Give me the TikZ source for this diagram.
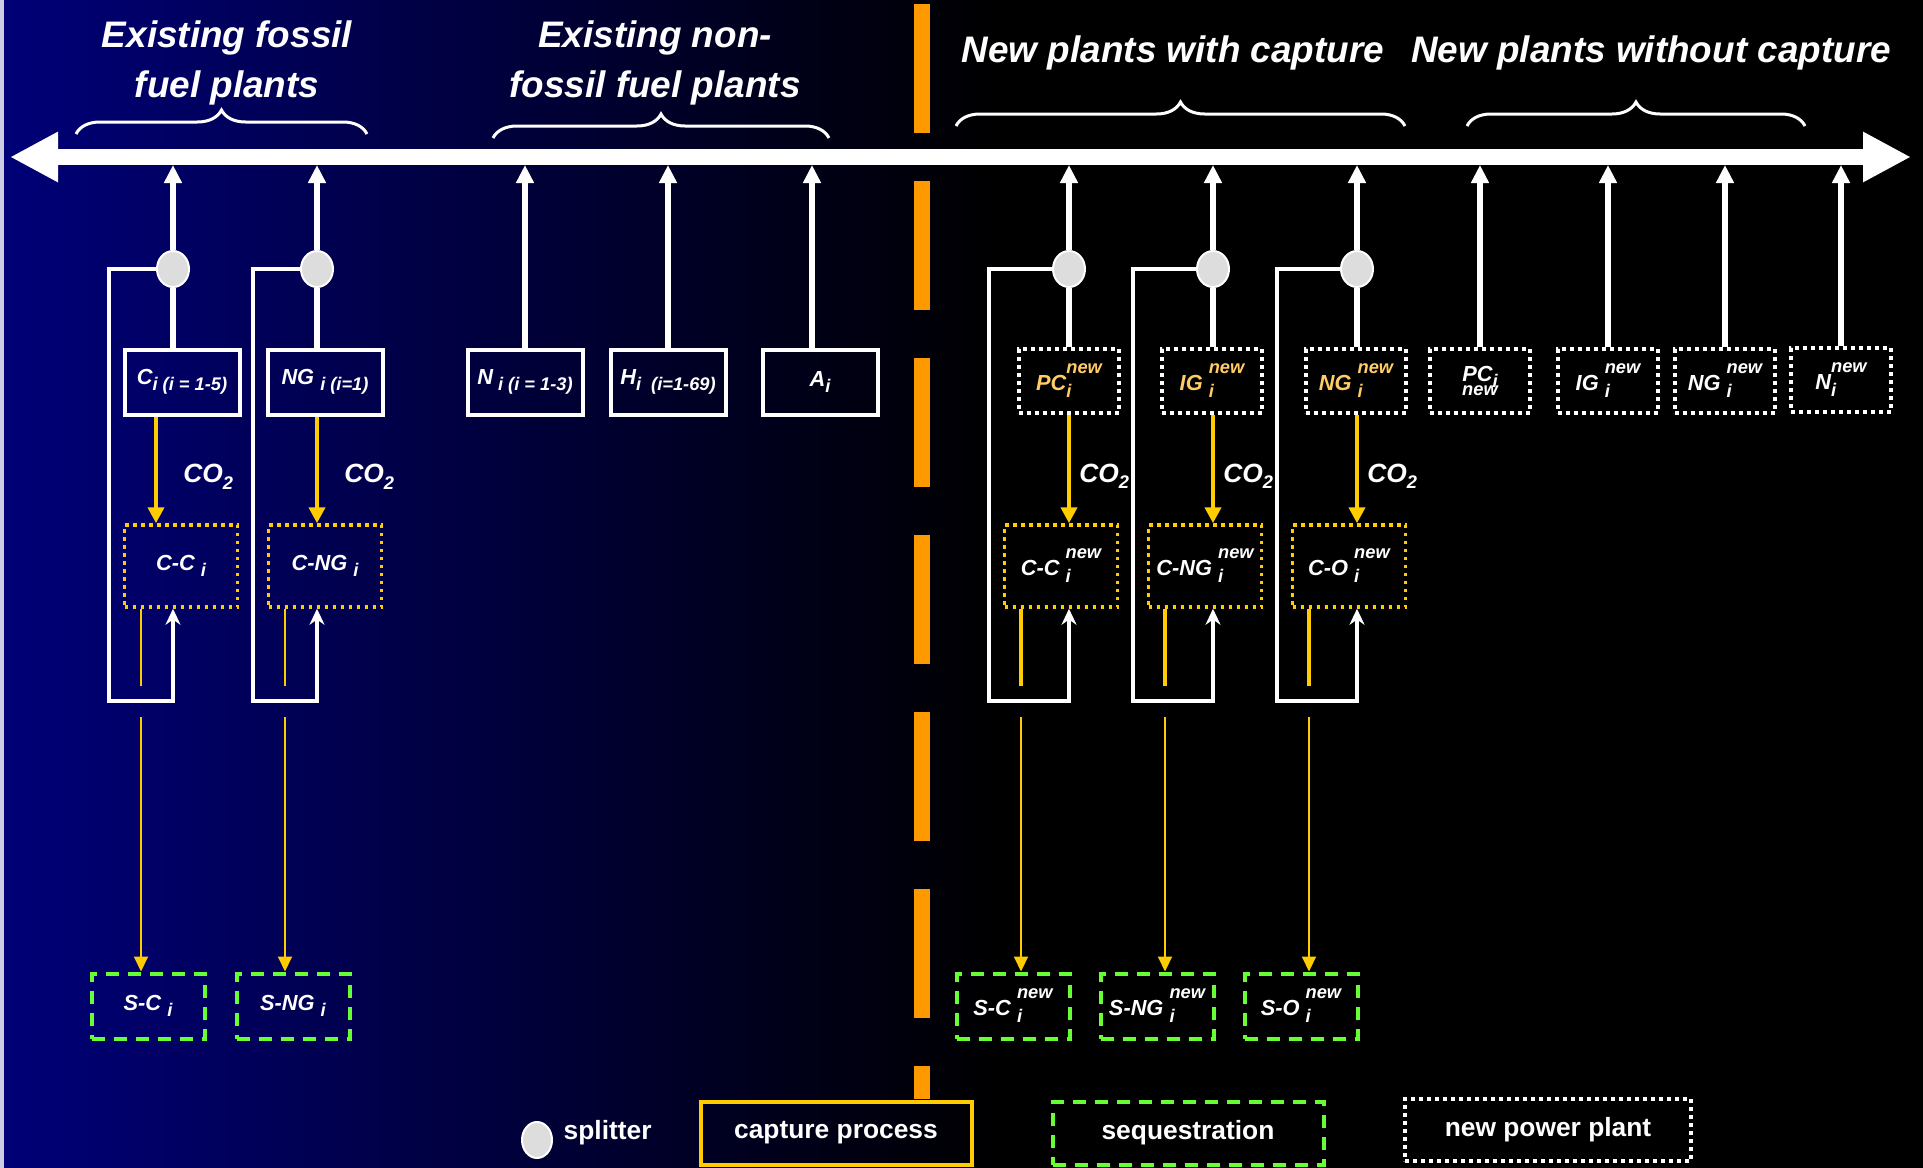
\documentclass[tikz,border=0pt]{standalone}
\usepackage{amsmath}
\usepackage{fontspec}
\setmainfont{Liberation Sans}
\usetikzlibrary{arrows.meta,shapes.geometric,decorations.pathreplacing}

\definecolor{capyellow}{HTML}{FFCC00}
\definecolor{seqgreen}{HTML}{66FF33}
\definecolor{gridorange}{HTML}{FF9900}
\definecolor{slidenavy}{HTML}{000078}
\definecolor{newgold}{HTML}{FFCC66}
\definecolor{splitgray}{HTML}{DDDDDD}

\newcommand{\plsub}[1]{\raisebox{-1.8pt}{\fontsize{5.2}{6}\selectfont #1}}
\newcommand{\plnew}{\raisebox{-2pt}{\fontsize{5.2}{6}\selectfont\shortstack[l]{new\\i}}}

\begin{document}
\begin{tikzpicture}[
			x=0.1mm, y=-0.1mm,
			every node/.style={font=\bfseries\itshape\fontsize{6.2}{7.4}\selectfont, text=white, inner sep=0pt},
			plant/.style={draw=white, line width=0.4mm, minimum width=11.5mm, minimum height=6.5mm},
			newplant/.style={draw=white, line width=0.4mm, dash pattern=on 0.4mm off 0.4mm, minimum width=10mm, minimum height=6.4mm},
			capture/.style={draw=capyellow, line width=0.35mm, dash pattern=on 0.35mm off 0.45mm, minimum width=11.3mm, minimum height=8.2mm},
			seqbox/.style={draw=seqgreen, line width=0.4mm, dash pattern=on 1.3mm off 0.9mm, minimum width=11.3mm, minimum height=6.5mm},
			splitter/.style={ellipse, draw=white, line width=0.2mm, fill=splitgray, minimum width=3.2mm, minimum height=3.6mm},
			title/.style={font=\bfseries\itshape\fontsize{10.5}{14.2}\selectfont, align=center},
			legend/.style={font=\bfseries\fontsize{7.5}{9}\selectfont},
			co2lab/.style={font=\bfseries\itshape\fontsize{7.5}{9}\selectfont, anchor=west},
			feed/.style={white, line width=0.6mm, -{Triangle[length=1.8mm,width=1.7mm]}},
			bypass/.style={white, line width=0.35mm},
			co2/.style={capyellow, line width=0.45mm, -{Triangle[length=1.6mm,width=1.6mm]}},
			seqline/.style={capyellow, line width=0.2mm},
			gbrace/.style={white, line width=0.3mm, decorate, decoration={brace, amplitude=2.4mm}}
			]
			\useasboundingbox (0,0) rectangle (1923,1168);
			
			% slide background
			\fill[black] (0,0) rectangle (1923,1168);
			\shade[left color=slidenavy, right color=black] (0,0) rectangle (1000,1168);
			\fill[white!80!slidenavy] (0,0) rectangle (4,1168);
			
			% existing / new divider
			\draw[gridorange, line width=1.6mm, dash pattern=on 12.9mm off 4.8mm] (922,4) -- (922,1099);
			
			% grid
			\coordinate (busW) at (10,157);
			\coordinate (busE) at (1911,157);
			\coordinate (busfoot) at (0,165);
			\draw[white, line width=1.6mm, {Triangle[length=4.8mm,width=4.7mm]}-{Triangle[length=4.8mm,width=4.7mm]}] (busW) -- (busE);
			
			\node[title] (tfossil) at (227,63) {Existing fossil\\fuel plants};
			\node[title] (tnonfossil) at (655,63) {Existing non-\\fossil fuel plants};
			\node[title] (twith) at (1173,53) {New plants with capture};
			\node[title] (twithout) at (1651,53) {New plants without capture};
			
			\draw[gbrace] (76,134) -- (367,134);
			\draw[gbrace] (493,138) -- (829,138);
			\draw[gbrace] (956,126) -- (1405,126);
			\draw[gbrace] (1467,126) -- (1805,126);
			
			% power plants
			\node[plant] (cbox) at (182,382) {C\plsub{i (i = 1-5)}};
			\node[plant] (ngbox) at (325,382) {NG \plsub{i (i=1)}};
			\node[plant] (nbox) at (525,382) {N\plsub{ i (i = 1-3)}};
			\node[plant] (hbox) at (668,382) {H\plsub{i \ (i=1-69)}};
			\node[plant] (abox) at (820,382) {A\plsub{i}};
			
			\node[newplant, text=newgold] (pcbox) at (1069,381) {PC\plnew};
			\node[newplant, text=newgold] (igbox) at (1212,381) {IG \plnew};
			\node[newplant, text=newgold] (ngnbox) at (1356,381) {NG \plnew};
			\node[newplant, align=center] (pcwbox) at (1480,381) {PC\plsub{i}\\[-3.5pt]{\fontsize{5.2}{6}\selectfont new}};
			\node[newplant] (igwbox) at (1608,381) {IG \plnew};
			\node[newplant] (ngwbox) at (1725,381) {NG \plnew};
			\node[newplant] (nwbox) at (1841,380) {N\plnew};
			
			% capture and sequestration
			\node[capture] (ccC) at (181,566) {C-C \plsub{i}};
			\node[capture] (ccNG) at (325,566) {C-NG \plsub{i}};
			\node[capture] (ccPC) at (1061,566) {C-C \plnew};
			\node[capture] (ccIG) at (1205,566) {C-NG \plnew};
			\node[capture] (ccO) at (1349,566) {C-O \plnew};
			
			\node[seqbox] (sC) at (148,1006) {S-C \plsub{i}};
			\node[seqbox] (sNG) at (293,1006) {S-NG \plsub{i}};
			\node[seqbox] (sPC) at (1013,1006) {S-C \plnew};
			\node[seqbox] (sIG) at (1157,1006) {S-NG \plnew};
			\node[seqbox] (sO) at (1301,1006) {S-O \plnew};
			
			\node[splitter] (spC) at (173,269) {};
			\node[splitter] (spNG) at (317,269) {};
			\node[splitter] (spPC) at (1069,269) {};
			\node[splitter] (spIG) at (1213,269) {};
			\node[splitter] (spNGn) at (1357,269) {};
			
			% flows
			\foreach \s/\b in {spC/cbox, spNG/ngbox, spPC/pcbox, spIG/igbox, spNGn/ngnbox} {
				\draw[white, line width=0.6mm] (\s.south) -- (\s |- \b.north);
				\draw[feed] (\s.north) -- (\s |- busfoot);
			}
			\foreach \b in {nbox, hbox, pcwbox, igwbox, ngwbox, nwbox}
				\draw[feed] (\b.north) -- (\b |- busfoot);
			\draw[feed] ([xshift=-0.8mm]abox.north) -- ([xshift=-0.8mm]abox.north |- busfoot);
			
			\foreach \s/\c/\lx in {spC/ccC/109, spNG/ccNG/253, spPC/ccPC/989, spIG/ccIG/1133, spNGn/ccO/1277}
				\draw[bypass, -{Stealth[length=1.6mm,width=1.5mm]}] (\s.west) -| (\lx,701) -| (\s |- \c.south);
			
			\draw[co2] ([xshift=-2.6mm]cbox.south) -- node[co2lab, xshift=2.5mm, yshift=-0.7mm] {CO\plsub{2}} ([xshift=-2.6mm]cbox.south |- ccC.north);
			\draw[co2] (spNG |- ngbox.south) -- node[co2lab, xshift=2.5mm, yshift=-0.7mm] {CO\plsub{2}} (spNG |- ccNG.north);
			\foreach \s/\b/\c in {spPC/pcbox/ccPC, spIG/igbox/ccIG, spNGn/ngnbox/ccO}
				\draw[co2] (\s |- \b.south) -- node[co2lab, xshift=0.8mm, yshift=-0.7mm] {CO\plsub{2}} (\s |- \c.north);
			
			\foreach \c/\s/\x/\w in {ccC/sC/141/0.2mm, ccNG/sNG/285/0.2mm, ccPC/sPC/1021/0.35mm, ccIG/sIG/1165/0.35mm, ccO/sO/1309/0.35mm} {
				\draw[seqline, line width=\w] (\x,0 |- \c.south) -- (\x,686);
				\draw[seqline, -{Triangle[length=1.5mm,width=1.4mm]}] (\x,717) -- (\x,0 |- \s.north);
			}
			
			% legend
			\node[splitter, minimum width=3mm] (lgsplit) at (537,1140) {};
			\node[legend, anchor=west] (lgsplittext) at (563,1133) {splitter};
			\node[legend, draw=capyellow, line width=0.4mm, minimum width=27.1mm, minimum height=6.3mm] (lgcap) at (836,1133) {capture process};
			\node[legend, seqbox, minimum width=27.1mm, minimum height=6.3mm] (lgseq) at (1188,1133) {sequestration\hspace{4.2mm}};
			\node[legend, newplant, minimum width=28.6mm, minimum height=6.2mm] (lgnew) at (1548,1130) {new power plant\hspace{1.6mm}};
		\end{tikzpicture}
\end{document}
